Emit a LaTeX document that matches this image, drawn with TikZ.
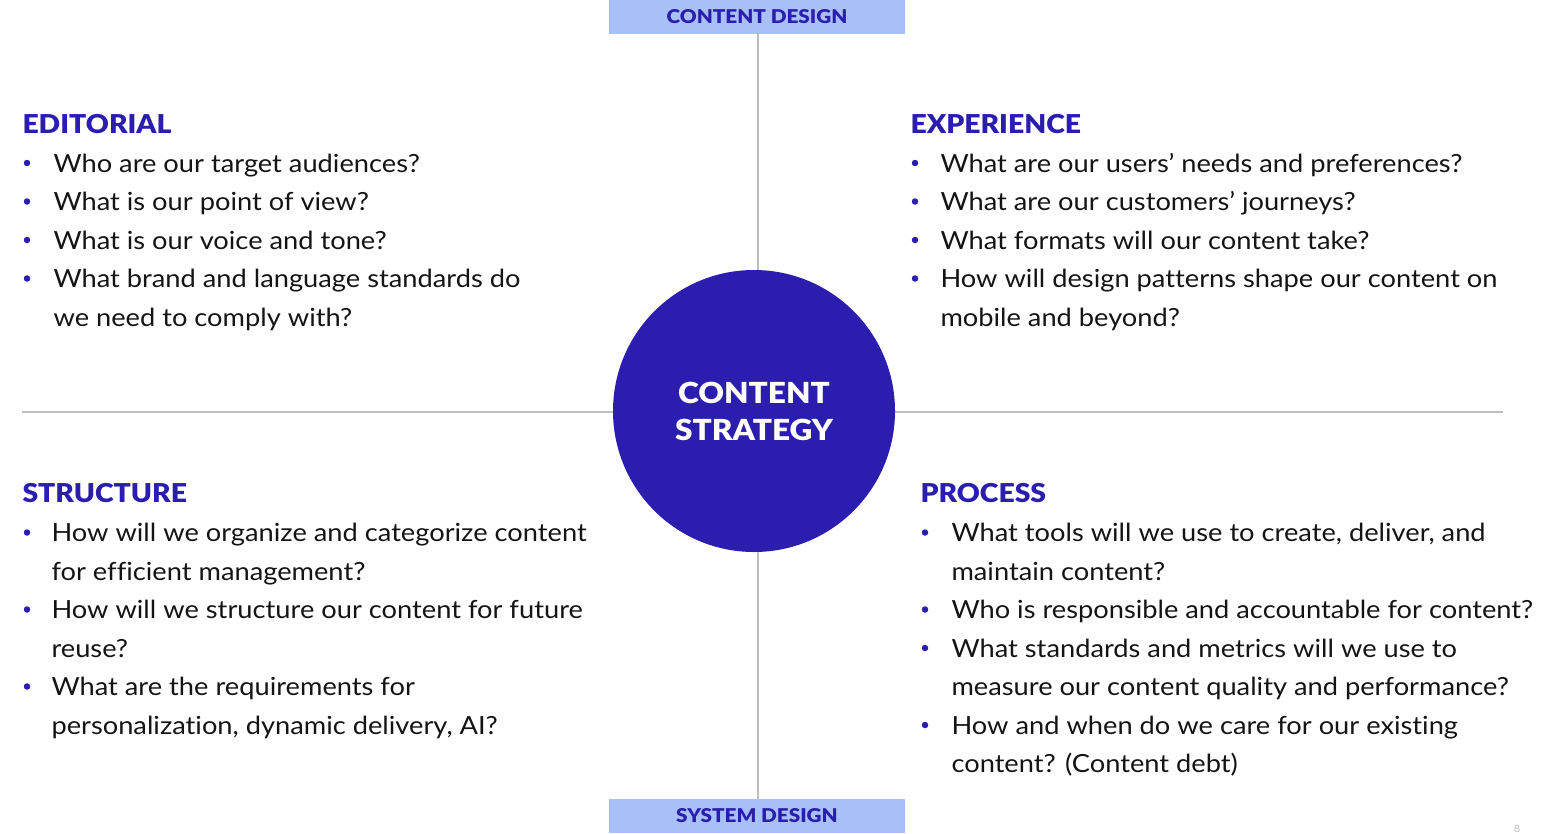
\documentclass[tikz,border=0pt]{standalone}
\usepackage{fontspec}
\setmainfont{Lato}[BoldFont={Lato Black}, FakeStretch=1.09, Ligatures=NoCommon]
\usetikzlibrary{positioning,calc}
\definecolor{cs@ink}{RGB}{43,29,174}
\definecolor{cs@pale}{RGB}{168,192,248}
\definecolor{cs@rule}{RGB}{190,190,190}
\definecolor{cs@text}{RGB}{20,20,20}
\tikzset{
  cstrat/.style={
    x=1pt, y=-1pt,
    line width=1pt
  },
  sidebox/.style={                 % content / system design tabs
    fill=cs@pale, draw=none,
    minimum width=296pt, minimum height=34pt,
    inner sep=0pt,
    text=cs@ink,
    font=\fontsize{19}{22}\selectfont\bfseries
  },
  hub/.style={                     % central circle
    circle, fill=cs@ink, draw=none,
    minimum size=282pt, inner sep=0pt,
    text=white, align=center,
    font=\fontsize{29}{37}\selectfont\bfseries
  },
  axis/.style={draw=cs@rule, line width=1.2pt},
  qhead/.style={anchor=base west, inner sep=0pt, text=cs@ink,
    font=\fontsize{26}{30}\selectfont\bfseries},
  qline/.style={anchor=base west, inner sep=0pt, text=cs@text,
    font=\fontsize{25}{30}\selectfont},
  qdot/.style={circle, fill=cs@ink, inner sep=0pt, minimum size=6.5pt}
}
\begin{document}
\begin{tikzpicture}[cstrat]
\useasboundingbox (0,0) rectangle (1541,833);

% Axes behind everything
\coordinate (axl) at (22,412);
\coordinate (axr) at (1503,412);
\node[sidebox] (cdesign) at (757,16.5) {CONTENT DESIGN};
\node[sidebox] (sdesign) at (757,816) {SYSTEM DESIGN};
\draw[axis] (axl) -- (axr);
\draw[axis] (cdesign.south -| 758,0) -- (sdesign.north -| 758,0);

% Hub
\node[hub] (hub) at (754,411) {CONTENT\\STRATEGY};

% Editorial (top left)
\node[qhead] (editorial) at (22,133) {EDITORIAL};
\foreach \n/\b/\t in {0/1/{Who are our target audiences?},
                      1/1/{What is our point of view?},
                      2/1/{What is our voice and tone?},
                      3/1/{What brand and language standards do},
                      4/0/{we need to comply with?}} {
  \node[qline] at (53,172+38.5*\n) {\t};
  \ifnum\b=1 \node[qdot] at (27,163+38.5*\n) {}; \fi
}

% Experience (top right)
\node[qhead] (experience) at (910,133) {EXPERIENCE};
\foreach \n/\b/\t in {0/1/{What are our users’ needs and preferences?},
                      1/1/{What are our customers’ journeys?},
                      2/1/{What formats will our content take?},
                      3/1/{How will design patterns shape our content on},
                      4/0/{mobile and beyond?}} {
  \node[qline] at (940,172+38.5*\n) {\t};
  \ifnum\b=1 \node[qdot] at (915,163+38.5*\n) {}; \fi
}

% Structure (bottom left)
\node[qhead] (structure) at (22,502) {STRUCTURE};
\foreach \n/\b/\t in {0/1/{How will we organize and categorize content},
                      1/0/{for efficient management?},
                      2/1/{How will we structure our content for future},
                      3/0/{reuse?},
                      4/1/{What are the requirements for},
                      5/0/{personalization, dynamic delivery, AI?}} {
  \node[qline] at (51,541.5+38.5*\n) {\t};
  \ifnum\b=1 \node[qdot] at (27,532.5+38.5*\n) {}; \fi
}

% Process (bottom right)
\node[qhead] (process) at (920,502) {PROCESS};
\foreach \n/\b/\t in {0/1/{What tools will we use to create, deliver, and},
                      1/0/{maintain content?},
                      2/1/{Who is responsible and accountable for content?},
                      3/1/{What standards and metrics will we use to},
                      4/0/{measure our content quality and performance?},
                      5/1/{How and when do we care for our existing},
                      6/0/{content? (Content debt)}} {
  \node[qline] at (951,541.5+38.5*\n) {\t};
  \ifnum\b=1 \node[qdot] at (925,532.5+38.5*\n) {}; \fi
}

% Page number in the corner
\node[anchor=base, inner sep=0pt, text=cs@rule,
  font=\fontsize{10}{12}\selectfont] (pagenum) at (1517,832) {8};
\end{tikzpicture}
\end{document}
